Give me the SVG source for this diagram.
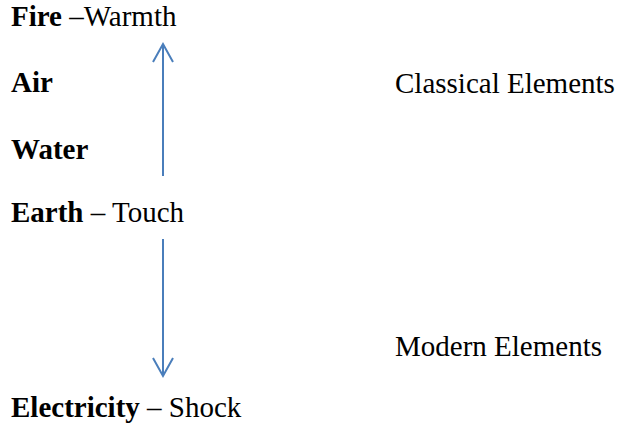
<svg xmlns="http://www.w3.org/2000/svg" width="618" height="431" viewBox="0 0 618 431">
<style>
text{font-family:"Liberation Serif","Times New Roman",serif;font-size:29px;fill:#000}
.b{font-weight:bold}
.c{stroke:#4a7ebb;stroke-width:2;fill:none}
</style>
<defs>
<marker id="ah" viewBox="0 0 12 12" refX="11" refY="6" markerWidth="12" markerHeight="12" markerUnits="userSpaceOnUse" orient="auto">
<path d="M1,0 L11,6 L1,12" fill="none" stroke="#4a7ebb" stroke-width="1.6"/>
</marker>
</defs>
<rect width="618" height="431" fill="#fff"/>
<g id="fire"><text x="11" y="26"><tspan class="b">Fire</tspan> –Warmth</text></g>
<g id="air"><text x="11" y="92" class="b">Air</text></g>
<g id="water"><text x="11" y="159" class="b">Water</text></g>
<g id="earth"><text x="11" y="222"><tspan class="b">Earth</tspan> – Touch</text></g>
<g id="electricity"><text x="11" y="417"><tspan class="b">Electricity</tspan> – Shock</text></g>
<g id="classical"><text x="395" y="93">Classical Elements</text></g>
<g id="modern"><text x="395" y="356">Modern Elements</text></g>
<g id="connectors">
<line class="c" x1="163" y1="176" x2="163" y2="44"/>
<path class="c" d="M153,62 L163,44 L173,62"/>
<line class="c" x1="163" y1="239" x2="163" y2="376"/>
<path class="c" d="M153,358 L163,376 L173,358"/>
</g>
</svg>
